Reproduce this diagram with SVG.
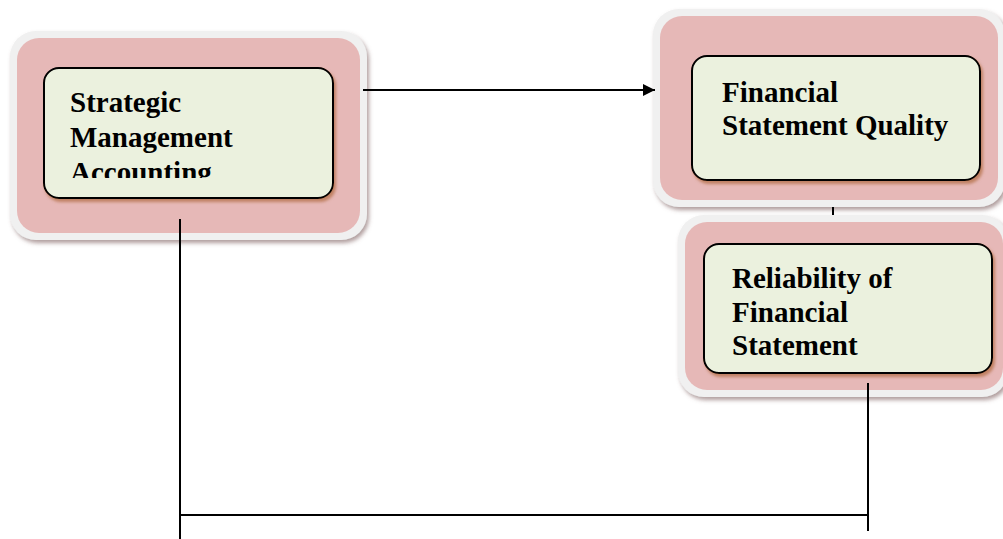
<svg xmlns="http://www.w3.org/2000/svg" width="1003" height="539" viewBox="0 0 1003 539">
<defs>
<filter id="sh" x="-10%" y="-10%" width="125%" height="130%">
<feDropShadow dx="2" dy="3" stdDeviation="2" flood-color="#7a5a5a" flood-opacity="0.6"/>
</filter>
<filter id="sh2" x="-10%" y="-10%" width="125%" height="130%">
<feDropShadow dx="2" dy="3" stdDeviation="1.5" flood-color="#b06a40" flood-opacity="0.7"/>
</filter>
<marker id="arr" viewBox="0 0 10 10" refX="10" refY="5" markerWidth="12" markerHeight="12" markerUnits="userSpaceOnUse" orient="auto">
<path d="M0,0 L10,5 L0,10 z" fill="#000"/>
</marker>
<clipPath id="c1"><rect x="40" y="60" width="300" height="118"/></clipPath>
</defs>
<style>
.outer{fill:#f0f0f0;filter:url(#sh)}
.pink{fill:#e6b8b7}
.inner{fill:#ebf1de;stroke:#000;stroke-width:2;filter:url(#sh2)}
.t{font-family:"Liberation Serif","Times New Roman",serif;font-weight:bold;font-size:29px;fill:#000}
.ln{stroke:#000;stroke-width:2;fill:none}
</style>
<rect width="1003" height="539" fill="#fff"/>
<g id="node-sma">
<rect class="outer" x="10" y="31" width="357" height="209" rx="26"/>
<rect class="pink" x="17" y="38" width="343" height="195" rx="22"/>
<rect class="inner" x="44" y="68" width="289" height="130" rx="15"/>
<g clip-path="url(#c1)">
<text class="t" x="70" y="112">Strategic</text>
<text class="t" x="70" y="147">Management</text>
<text class="t" x="70" y="182">Accounting</text>
</g>
</g>
<g id="node-fsq">
<rect class="outer" x="653" y="9" width="352" height="198" rx="26"/>
<rect class="pink" x="660" y="16" width="338" height="184" rx="22"/>
<rect class="inner" x="692" y="56" width="288" height="124" rx="15"/>
<text class="t" x="722" y="102">Financial</text>
<text class="t" x="722" y="135">Statement Quality</text>
</g>
<g id="node-rfs">
<rect class="outer" x="678" y="215" width="330" height="182" rx="26"/>
<rect class="pink" x="685" y="222" width="318" height="168" rx="22"/>
<rect class="inner" x="704" y="244" width="288" height="129" rx="15"/>
<text class="t" x="732" y="288">Reliability of</text>
<text class="t" x="732" y="322">Financial</text>
<text class="t" x="732" y="355">Statement</text>
</g>
<g id="connectors">
<line class="ln" x1="363" y1="90" x2="655" y2="90" marker-end="url(#arr)"/>
<line class="ln" x1="833" y1="207" x2="833" y2="215"/>
<line class="ln" x1="180" y1="219" x2="180" y2="539"/>
<line class="ln" x1="180" y1="515" x2="868" y2="515"/>
<line class="ln" x1="868" y1="383" x2="868" y2="531"/>
</g>
</svg>
